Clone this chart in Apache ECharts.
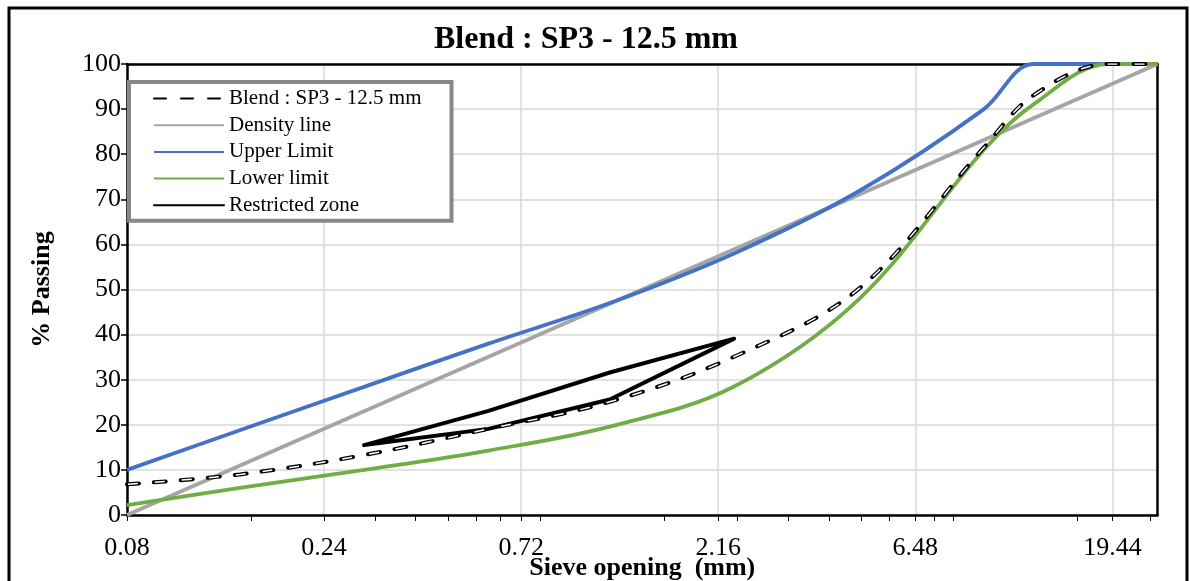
<!DOCTYPE html>
<html>
<head>
<meta charset="utf-8">
<title>Blend : SP3 - 12.5 mm</title>
<script src="https://cdn.jsdelivr.net/npm/echarts@6/dist/echarts.min.js"></script>
<style>
  html, body { margin: 0; padding: 0; background: #ffffff; }
  #chart { width: 1190px; height: 581px; }
</style>
</head>
<body>
<div id="chart"></div>
<script>
// Sieve openings (mm) and % passing for each gradation curve
const sieves = [0.08, 0.15, 0.3, 0.6, 1.18, 2.36, 4.75, 9.5, 12.5, 19, 25];
const blend = [6.8, 9.0, 13.3, 19.1, 25.1, 35.1, 50.3, 81.5, 93, 100, 100];
const upperLimit = [10, 18.8, 28.4, 38, 47, 58, 71.9, 90, 100, 100, 100];
const lowerLimit = [2.2, 6, 10, 14.3, 19.6, 28.5, 48, 81, 91, 100, 100];

// Maximum density line: straight from the smallest to the largest sieve
const densitySieves = [0.08, 25];
const densityLine = [0, 100];

// Restricted zone outline (lower boundary out, upper boundary back)
const zoneSieves = [0.3, 0.6, 1.18, 2.36, 1.18, 0.6, 0.3];
const zoneValues = [15.5, 19.1, 25.6, 39.1, 31.6, 23.1, 15.5];

// Axis ticks
const majorTicks = [0.08, 0.24, 0.72, 2.16, 6.48, 19.44];
const minorTicks = [0.16, 0.32, 0.4, 0.48, 0.56, 0.64, 0.8, 1.6, 2.4, 3.2, 4.0, 4.8, 5.6, 7.2, 8, 16, 24];

const pairs = (xs, ys) => xs.map((x, i) => [x, ys[i]]);

const FONT = '"Liberation Serif", "Times New Roman", serif';
const BLUE = '#4472C4';
const GREEN = '#70AD47';
const GRAY = '#A5A5A5';

const chart = echarts.init(document.getElementById('chart'), null, { renderer: 'canvas' });

const xBase = { type: 'log', logBase: 3, min: 0.08, max: 25, gridIndex: 0 };
const frameLine = { show: true, onZero: false, lineStyle: { color: '#000', width: 2.5 } };

chart.setOption({
  backgroundColor: '#ffffff',
  animation: false,
  title: {
    text: 'Blend : SP3 - 12.5 mm',
    left: 581,
    top: 19,
    textAlign: 'center',
    textStyle: { fontFamily: FONT, fontSize: 32, fontWeight: 'bold', color: '#000' }
  },
  graphic: [{
    type: 'rect',
    shape: { x: 9, y: 8, width: 1178, height: 600 },
    style: { fill: null, stroke: '#000', lineWidth: 3 },
    silent: true,
    z: -1
  }],
  legend: {
    left: 129,
    top: 82,
    orient: 'vertical',
    padding: [6, 30, 5, 24],
    itemWidth: 70,
    itemHeight: 14,
    itemGap: 5.7,
    borderColor: '#888888',
    borderWidth: 4,
    backgroundColor: '#ffffff',
    itemStyle: { opacity: 0 },
    textStyle: { fontFamily: FONT, fontSize: 21, color: '#000', lineHeight: 20 },
    data: ['Blend : SP3 - 12.5 mm', 'Density line', 'Upper Limit', 'Lower limit', 'Restricted zone']
  },
  grid: {
    left: 127,
    right: 32.5,
    top: 64,
    bottom: 66,
    show: false,
    containLabel: false,
    outerBoundsMode: 'none'
  },
  xAxis: [
    Object.assign({}, xBase, {
      name: 'Sieve opening  (mm)',
      nameLocation: 'middle',
      nameGap: 40,
      nameMoveOverlap: false,
      nameTextStyle: { fontFamily: FONT, fontSize: 26, fontWeight: 'bold', color: '#000' },
      axisLine: frameLine,
      axisTick: { show: true, length: 6, lineStyle: { color: '#000', width: 1 },
                  customValues: majorTicks.concat(minorTicks) },
      axisLabel: { show: true, margin: 20, fontFamily: FONT, fontSize: 26, color: '#000',
                   customValues: majorTicks, formatter: v => (+v).toFixed(2) },
      splitLine: { show: false }
    }),
    Object.assign({}, xBase, {
      position: 'bottom',
      axisLine: { show: false },
      axisTick: { show: false, customValues: majorTicks },
      axisLabel: { show: false, customValues: majorTicks },
      splitLine: { show: true, lineStyle: { color: '#D9D9D9', width: 1.5 } }
    }),
    // top edge of the plot frame
    Object.assign({}, xBase, {
      position: 'top',
      axisLine: frameLine,
      axisTick: { show: false },
      axisLabel: { show: false },
      splitLine: { show: false }
    })
  ],
  yAxis: [
    {
      type: 'value',
      min: 0,
      max: 100,
      interval: 10,
      name: '% Passing',
      nameLocation: 'middle',
      nameGap: 72,
      nameMoveOverlap: false,
      nameTextStyle: { fontFamily: FONT, fontSize: 26, fontWeight: 'bold', color: '#000' },
      axisLine: frameLine,
      axisTick: { show: true, length: 6, lineStyle: { color: '#000', width: 1.5 } },
      axisLabel: { margin: 6, fontFamily: FONT, fontSize: 26, color: '#000' },
      splitLine: { show: true, lineStyle: { color: '#D9D9D9', width: 1.5 } }
    },
    // right edge of the plot frame
    {
      type: 'value',
      min: 0,
      max: 100,
      interval: 10,
      position: 'right',
      axisLine: frameLine,
      axisTick: { show: false },
      axisLabel: { show: false },
      splitLine: { show: false }
    }
  ],
  series: [
    {
      name: 'Density line',
      type: 'line',
      data: pairs(densitySieves, densityLine),
      symbol: 'none',
      lineStyle: { color: GRAY, width: 4 },
      itemStyle: { color: GRAY },
      z: 3
    },
    {
      name: 'Upper Limit',
      type: 'line',
      data: pairs(sieves, upperLimit),
      smooth: 0.35,
      symbol: 'none',
      lineStyle: { color: BLUE, width: 3.8 },
      itemStyle: { color: BLUE },
      z: 4
    },
    {
      name: 'Lower limit',
      type: 'line',
      data: pairs(sieves, lowerLimit),
      smooth: 0.35,
      symbol: 'none',
      lineStyle: { color: GREEN, width: 3.8 },
      itemStyle: { color: GREEN },
      z: 4
    },
    {
      name: 'Restricted zone',
      type: 'line',
      data: pairs(zoneSieves, zoneValues),
      symbol: 'none',
      lineStyle: { color: '#000', width: 4, join: 'round', cap: 'round' },
      itemStyle: { color: '#000' },
      z: 5
    },
    {
      name: 'Blend : SP3 - 12.5 mm',
      type: 'line',
      data: pairs(sieves, blend),
      smooth: 0.35,
      symbol: 'none',
      lineStyle: { color: '#000', width: 4, type: [12, 15], cap: 'round' },
      itemStyle: { color: '#000' },
      z: 6
    },
    {
      // hollow centre of the blend dashes
      name: 'blend-core',
      type: 'line',
      data: pairs(sieves, blend),
      smooth: 0.35,
      symbol: 'none',
      lineStyle: { color: '#fff', width: 1.5, type: [10, 17], dashOffset: -1 },
      itemStyle: { color: '#fff' },
      silent: true,
      z: 7
    }
  ]
});
</script>
</body>
</html>
